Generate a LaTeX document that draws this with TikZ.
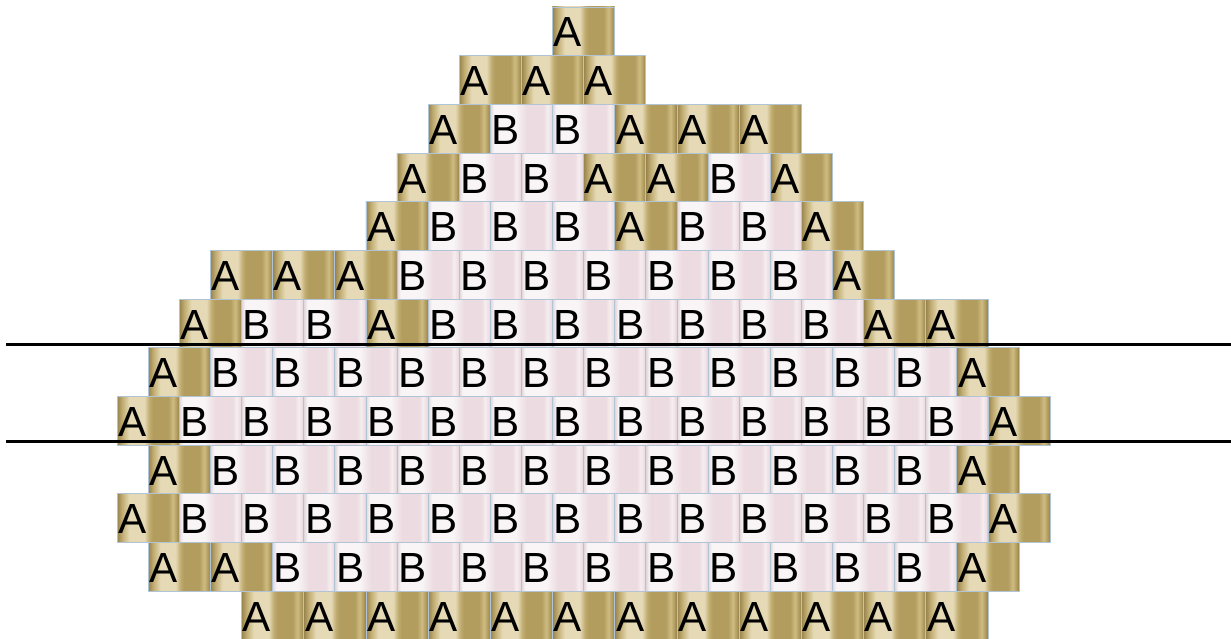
\documentclass[tikz,border=0pt]{standalone}
\usepackage{fontspec}
\setmainfont{Liberation Sans}
\usepackage{tikz}

\definecolor{goldA}{RGB}{150,130,76}
\definecolor{goldB}{RGB}{230,218,182}
\definecolor{goldC}{RGB}{192,172,112}
\definecolor{goldD}{RGB}{178,156,94}
\definecolor{goldE}{RGB}{206,188,130}
\definecolor{pinkA}{RGB}{222,212,218}
\definecolor{pinkB}{RGB}{249,245,246}
\definecolor{pinkC}{RGB}{236,220,225}
\definecolor{pinkD}{RGB}{246,238,240}
\definecolor{tileedge}{RGB}{176,196,214}

\pgfdeclarehorizontalshading{tileA}{100bp}{color(0bp)=(goldA); color(25bp)=(goldA);
  color(29bp)=(goldC); color(35bp)=(goldB); color(47bp)=(goldB); color(51bp)=(goldC);
  color(54bp)=(goldD); color(66bp)=(goldD); color(70bp)=(goldE); color(73bp)=(goldD);
  color(75bp)=(goldA); color(100bp)=(goldA)}
\pgfdeclarehorizontalshading{tileB}{100bp}{color(0bp)=(pinkA); color(25bp)=(pinkA);
  color(28bp)=(pinkB); color(45bp)=(pinkB); color(54bp)=(pinkC); color(68bp)=(pinkC);
  color(71bp)=(pinkD); color(74bp)=(pinkC); color(75bp)=(pinkA); color(100bp)=(pinkA)}

\begin{document}
\begin{tikzpicture}[x=0.02cm, y=0.02cm,
    tile/.style={draw=tileedge, line width=0.3pt},
    letter/.style={inner sep=0pt, font=\fontsize{24}{24}\selectfont},
    cutline/.style={line width=0.06cm}]
    \useasboundingbox (0,0) rectangle (1231,639);

    % Rows: row / start in half tiles / letters
    \foreach \r/\s/\row in {
        0/14/{A},
        1/11/{A,A,A},
        2/10/{A,B,B,A,A,A},
        3/9/{A,B,B,A,A,B,A},
        4/8/{A,B,B,B,A,B,B,A},
        5/3/{A,A,A,B,B,B,B,B,B,B,A},
        6/2/{A,B,B,A,B,B,B,B,B,B,B,A,A},
        7/1/{A,B,B,B,B,B,B,B,B,B,B,B,B,A},
        8/0/{A,B,B,B,B,B,B,B,B,B,B,B,B,B,A},
        9/1/{A,B,B,B,B,B,B,B,B,B,B,B,B,A},
        10/0/{A,B,B,B,B,B,B,B,B,B,B,B,B,B,A},
        11/1/{A,A,B,B,B,B,B,B,B,B,B,B,B,A},
        12/4/{A,A,A,A,A,A,A,A,A,A,A,A}}{
        \foreach \c [count=\i from 0] in \row {
            \pgfmathsetmacro\xl{117+\s*31.1+\i*62.2}
            \pgfmathsetmacro\yt{632-\r*48.67}
            \shade[tile, shading=tile\c] (\xl,\yt) rectangle ++(62.2,-48.67);
            \node[letter] (t\r-\i) at (\xl+15.5,\yt-25.5) {\c};
        }
    }

    % Cut lines
    \coordinate (cutAw) at (6,294);
    \coordinate (cutAe) at (1231,294);
    \coordinate (cutBw) at (6,197);
    \coordinate (cutBe) at (1231,197);
    \draw[cutline] (cutAw) -- (cutAe);
    \draw[cutline] (cutBw) -- (cutBe);
\end{tikzpicture}
\end{document}
